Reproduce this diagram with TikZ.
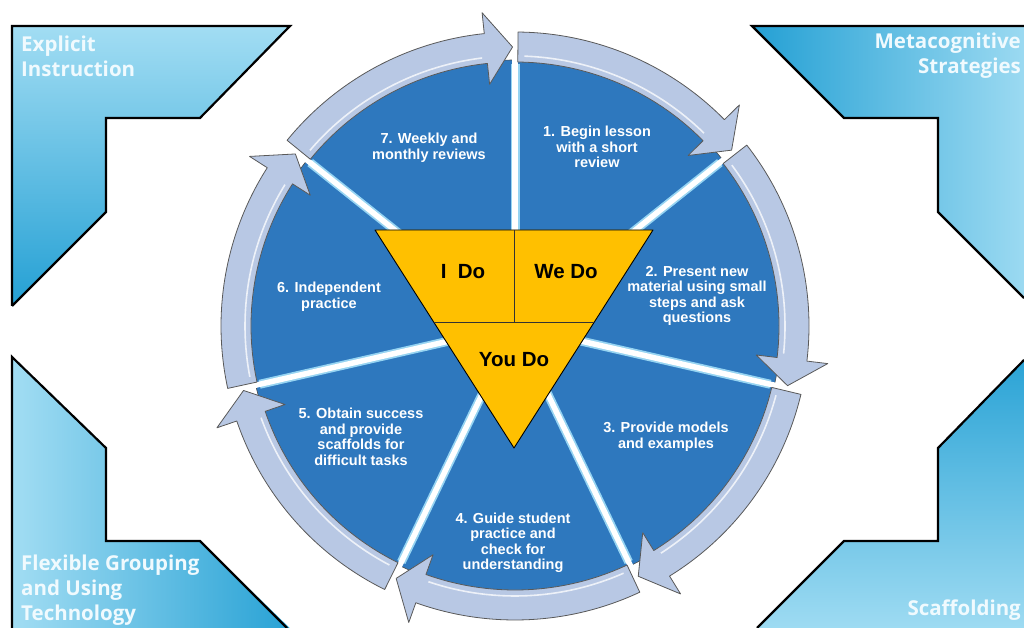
\documentclass[tikz,border=0pt]{standalone}
\usepackage{fontspec}
\setmainfont{Liberation Sans}
\newfontfamily\cornerfont{Open Sans}
\usepackage{tikz}

\definecolor{wedgeblue}{RGB}{46,120,190}
\definecolor{ringblue}{RGB}{184,200,228}
\definecolor{gapcyan}{RGB}{150,212,242}
\definecolor{doyellow}{RGB}{255,192,0}
\definecolor{cornerlight}{RGB}{162,221,243}
\definecolor{cornerdark}{RGB}{36,160,212}

% one blue wedge of the cycle, from angle #1 clockwise to #2
\newcommand{\cyclewedge}[2]{%
  \filldraw[wedgefill] (0,0) -- ({#1}:266pt) arc[start angle={#1}, end angle={#2}, radius=266pt] -- cycle;}
% white cut between two wedges
\newcommand{\cyclegap}[1]{%
  \draw[gapedge] (0,0) -- ({#1}:262pt);
  \draw[gapline] (0,0) -- ({#1}:268pt);}
% curved arrow on the rim of a wedge
\newcommand{\cyclearrow}[2]{%
  \filldraw[ringarrow] ({#1-0.6}:264pt) arc[start angle={#1-0.6}, end angle={#2+6}, radius=264pt]
    -- ({#2+6}:243pt) -- ({#2+0.5}:279pt) -- ({#2+6}:315pt) -- ({#2+6}:294pt)
    arc[start angle={#2+6}, end angle={#1-0.6}, radius=294pt] -- cycle;
  \draw[ringshine] ({#1-2}:270pt) arc[start angle={#1-2}, end angle={#2+7}, radius=270pt];}

\begin{document}
\begin{tikzpicture}[x=1pt, y=1pt,
    panelline/.style={draw=black, line width=2.2pt},
    cornertext/.style={text=white!94!cyan, font=\cornerfont\bfseries\fontsize{20.5}{25}\selectfont, inner sep=0pt},
    wedgefill/.style={fill=wedgeblue, draw=black!70, line width=0.6pt},
    gapedge/.style={gapcyan, line width=9pt},
    gapline/.style={white, line width=5.5pt},
    ringarrow/.style={fill=ringblue, draw=black!65, line width=0.8pt, line join=round},
    ringshine/.style={white, opacity=0.75, line width=1.6pt},
    dotri/.style={fill=doyellow, draw=black, line width=0.9pt, line join=round},
    dodivide/.style={draw=black!80, line width=0.8pt},
    dotext/.style={font=\bfseries\fontsize{20.5}{24}\selectfont, inner sep=0pt},
    wedgetext/.style={text=white, font=\bfseries\fontsize{14.5}{15.5}\selectfont, align=center, inner sep=0pt}]

  \useasboundingbox (0,0) rectangle (1024,628);

  % corner panels
  \begin{scope}
    \clip (0,0) rectangle (1024,628);
    \shade[top color=cornerlight, bottom color=cornerdark]
      (12,602) -- (290,602) -- (200,510) -- (106,510) -- (106,416) -- (12,322) -- cycle;
    \shade[left color=cornerdark, right color=cornerlight]
      (752,602) -- (1040,602) -- (1040,314) -- (938,416) -- (938,510) -- (844,510) -- cycle;
    \shade[left color=cornerlight, right color=cornerdark]
      (12,271) -- (106,180) -- (106,87) -- (200,87) -- (300,-10) -- (12,-10) -- cycle;
    \shade[top color=cornerdark, bottom color=cornerlight]
      (1040,284) -- (938,180) -- (938,87) -- (844,87) -- (747,-10) -- (1040,-10) -- cycle;
  \end{scope}
  \draw[panelline] (12,322) -- (12,602) -- (290,602) -- (200,510) -- (106,510) -- (106,416) -- (12,322);
  \draw[panelline] (1024,602) -- (752,602) -- (844,510) -- (938,510) -- (938,416) -- (1024,330);
  \draw[panelline] (12,0) -- (12,271) -- (106,180) -- (106,87) -- (200,87) -- (287,0);
  \draw[panelline] (1024,268) -- (938,180) -- (938,87) -- (844,87) -- (757,0);

  \node[cornertext, anchor=west, align=left]  (explicit) at (21,572) {Explicit\\Instruction};
  \node[cornertext, anchor=east, align=right] (meta)     at (1021,572) {Metacognitive\\Strategies};
  \node[cornertext, anchor=west, align=left]  (flexible) at (21,38) {Flexible Grouping\\and Using\\Technology};
  \node[cornertext, anchor=east]              (scaff)    at (1021,18) {Scaffolding};

  % the cycle
  \begin{scope}[shift={(515,302)}]
    \cyclewedge{90}{38.571}
    \cyclewedge{38.571}{-12.857}
    \cyclewedge{-12.857}{-64.286}
    \cyclewedge{-64.286}{-115.714}
    \cyclewedge{-115.714}{-167.143}
    \cyclewedge{-167.143}{-218.571}
    \cyclewedge{-218.571}{-270}

    \cyclegap{90}
    \cyclegap{38.571}
    \cyclegap{-12.857}
    \cyclegap{-64.286}
    \cyclegap{-115.714}
    \cyclegap{-167.143}
    \cyclegap{-218.571}

    \cyclearrow{90}{38.571}
    \cyclearrow{38.571}{-12.857}
    \cyclearrow{-12.857}{-64.286}
    \cyclearrow{-64.286}{-115.714}
    \cyclearrow{-115.714}{-167.143}
    \cyclearrow{-167.143}{-218.571}
    \cyclearrow{-218.571}{-270}
  \end{scope}

  % I do / we do / you do
  \coordinate (tl) at (375,398);
  \coordinate (tr) at (653,398);
  \coordinate (tip) at (514,180);
  \coordinate (ml) at (433.7,306);
  \coordinate (mr) at (594.3,306);
  \coordinate (mt) at (514,398);
  \coordinate (mc) at (514,306);
  \filldraw[dotri] (tl) -- (tr) -- (tip) -- cycle;
  \draw[dodivide] (ml) -- (mr) (mt) -- (mc);

  \node[dotext] (ido)   at (463,356) {I\ \ Do};
  \node[dotext] (wedo)  at (566,356) {We Do};
  \node[dotext] (youdo) at (514,268) {You Do};

  % wedge labels
  \node[wedgetext] (begin)   at (597,481) {1. Begin lesson\\with a short\\review};
  \node[wedgetext] (present) at (697,332) {2. Present new\\material using small\\steps and ask\\questions};
  \node[wedgetext] (models)  at (666,191) {3. Provide models\\and examples};
  \node[wedgetext] (guide)   at (513,85)  {4. Guide student\\practice and\\check for\\understanding};
  \node[wedgetext] (obtain)  at (361,191) {5. Obtain success\\and provide\\scaffolds for\\difficult tasks};
  \node[wedgetext] (indep)   at (329,331) {6. Independent\\practice};
  \node[wedgetext] (weekly)  at (429,480) {7. Weekly and\\monthly reviews};

\end{tikzpicture}
\end{document}
